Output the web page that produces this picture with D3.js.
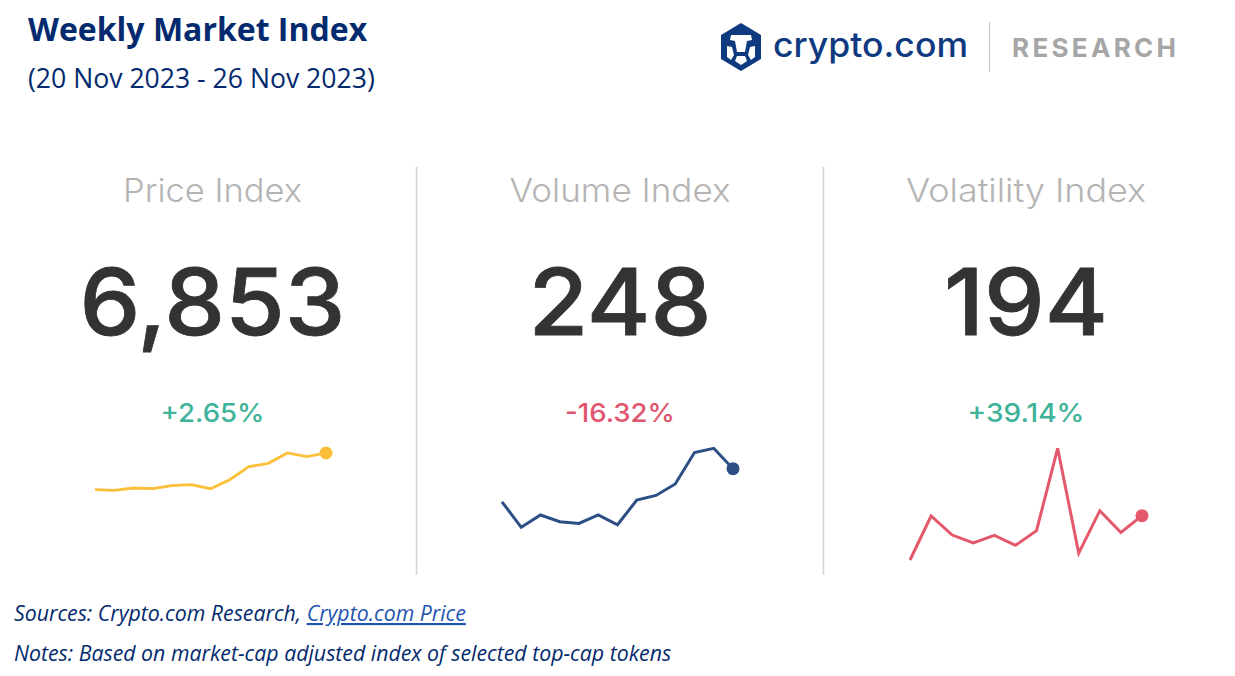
<!DOCTYPE html>
<html>
<head>
<meta charset="utf-8">
<script src="https://cdn.jsdelivr.net/npm/d3@7"></script>
<style>
  html, body { margin: 0; padding: 0; background: #fff; }
  svg { display: block; }
</style>
</head>
<body>
<svg id="chart" width="1235" height="676"></svg>
<script>
// values, weekly points for each index
var priceValues = [5095, 5066, 5176, 5143, 5287, 5335, 5143, 5574, 6197, 6360, 6853, 6676, 6853];
var volumeValues = [170, 110, 139, 123, 119, 139, 116, 174, 185, 212, 286, 296, 248];
var volatilityValues = [52, 193, 132, 107, 131, 99, 146, 410, 74, 210, 140, 194];

var panelTitles = ["Price Index", "Volume Index", "Volatility Index"];
var panelNumbers = ["6,853", "248", "194"];
var panelChanges = ["+2.65%", "-16.32%", "+39.14%"];

var green = "#3fb39a", red = "#e0566f", navy = "#032a6e";

var panels = [
  { values: priceValues, cx: 212.5, color: "#fbbf3a", changeColor: green, x: [95, 326], y: [490.3, 453], w: 2.8, titleW: 179, numW: 266, changeW: 104 },
  { values: volumeValues, cx: 620, color: "#2c4f86", changeColor: red, x: [502, 733], y: [527.3, 448.3], w: 3, titleW: 221, numW: 183, changeW: 110 },
  { values: volatilityValues, cx: 1026, color: "#e4586c", changeColor: green, x: [910, 1142], y: [560, 448.3], w: 3, titleW: 240, numW: 164, changeW: 117 }
];

var svg = d3.select("#chart");

// header
svg.append("text").attr("x", 28).attr("y", 41)
  .style("font", "700 32px 'Open Sans'").style("fill", navy)
  .text("Weekly Market Index");
svg.append("text").attr("x", 28).attr("y", 88)
  .style("font", "400 26.6px 'Open Sans'").style("fill", navy)
  .text("(20 Nov 2023 - 26 Nov 2023)");

// logo
var logo = svg.append("g").attr("transform", "translate(741,47)");
logo.append("path").attr("fill", "#0f3a80")
  .attr("d", "M0,-24L20,-12L20,12L0,24L-20,12L-20,-12Z");
logo.append("path").attr("fill", "#fff")
  .attr("d", "M-10,-12L10,-12L11,-7L6,-6L4,5L-4,5L-6,-6L-11,-7Z");
logo.append("path").attr("fill", "#fff")
  .attr("d", "M-14,-1L-9,0L-7,8L-10,13L-14,10Z");
logo.append("path").attr("fill", "#fff")
  .attr("d", "M14,-1L9,0L7,8L10,13L14,10Z");
logo.append("path").attr("fill", "#fff")
  .attr("d", "M-4,9L4,9L6,14L0,18L-6,14Z");

svg.append("text").attr("x", 773).attr("y", 57)
  .style("font", "500 34px Inter").style("fill", "#0f3a80")
  .attr("textLength", 195).attr("lengthAdjust", "spacingAndGlyphs")
  .text("crypto.com");
svg.append("line").attr("x1", 989.5).attr("x2", 989.5).attr("y1", 22).attr("y2", 72)
  .style("stroke", "#c4c4c4").style("stroke-width", 1);
svg.append("text").attr("x", 1012).attr("y", 57)
  .style("font", "700 26px Inter").style("fill", "#a6a6a6")
  .attr("textLength", 164).attr("lengthAdjust", "spacing")
  .text("RESEARCH");

// dividers between the panels
svg.selectAll(".divider").data([416.5, 823.5]).enter().append("line")
  .attr("class", "divider")
  .attr("x1", function(d) { return d; }).attr("x2", function(d) { return d; })
  .attr("y1", 167).attr("y2", 575)
  .style("stroke", "#d2d2d2").style("stroke-width", 1.5);

panels.forEach(function(p, i) {
  var g = svg.append("g");

  g.append("text").attr("x", p.cx).attr("y", 202)
    .attr("text-anchor", "middle")
    .style("font", "300 33px Inter").style("fill", "#b4b4b4")
    .attr("textLength", p.titleW).attr("lengthAdjust", "spacingAndGlyphs")
    .text(panelTitles[i]);

  g.append("text").attr("x", p.cx).attr("y", 335)
    .attr("text-anchor", "middle")
    .style("font", "500 92px Inter").style("fill", "#333333")
    .style("stroke", "#333333").style("stroke-width", 0.8)
    .attr("textLength", p.numW).attr("lengthAdjust", "spacingAndGlyphs")
    .text(panelNumbers[i]);

  g.append("text").attr("x", p.cx).attr("y", 422)
    .attr("text-anchor", "middle")
    .style("font", "500 26px Inter").style("fill", p.changeColor)
    .attr("textLength", p.changeW).attr("lengthAdjust", "spacingAndGlyphs")
    .text(panelChanges[i]);

  // sparkline
  var xScale = d3.scalePoint().domain(d3.range(p.values.length)).range(p.x);
  var yScale = d3.scaleLinear().domain(d3.extent(p.values)).range(p.y);
  var line = d3.line()
    .x(function(d, k) { return xScale(k); })
    .y(function(d) { return yScale(d); });

  g.append("path").datum(p.values)
    .attr("d", line)
    .style("fill", "none").style("stroke", p.color)
    .style("stroke-width", p.w).style("stroke-linejoin", "miter");

  var lastIdx = p.values.length - 1;
  g.append("circle")
    .attr("cx", xScale(lastIdx)).attr("cy", yScale(p.values[lastIdx]))
    .attr("r", 6.5).style("fill", p.color);
});

// footer
var sources = svg.append("text").attr("x", 14).attr("y", 621)
  .style("font", "italic 400 21.3px 'Open Sans'").style("fill", navy);
sources.append("tspan").text("Sources: Crypto.com Research, ");
sources.append("tspan").style("fill", "#1f55b0").style("text-decoration", "underline").text("Crypto.com Price");

svg.append("text").attr("x", 14).attr("y", 661)
  .style("font", "italic 400 21.3px 'Open Sans'").style("fill", navy)
  .text("Notes: Based on market-cap adjusted index of selected top-cap tokens");
</script>
</body>
</html>
